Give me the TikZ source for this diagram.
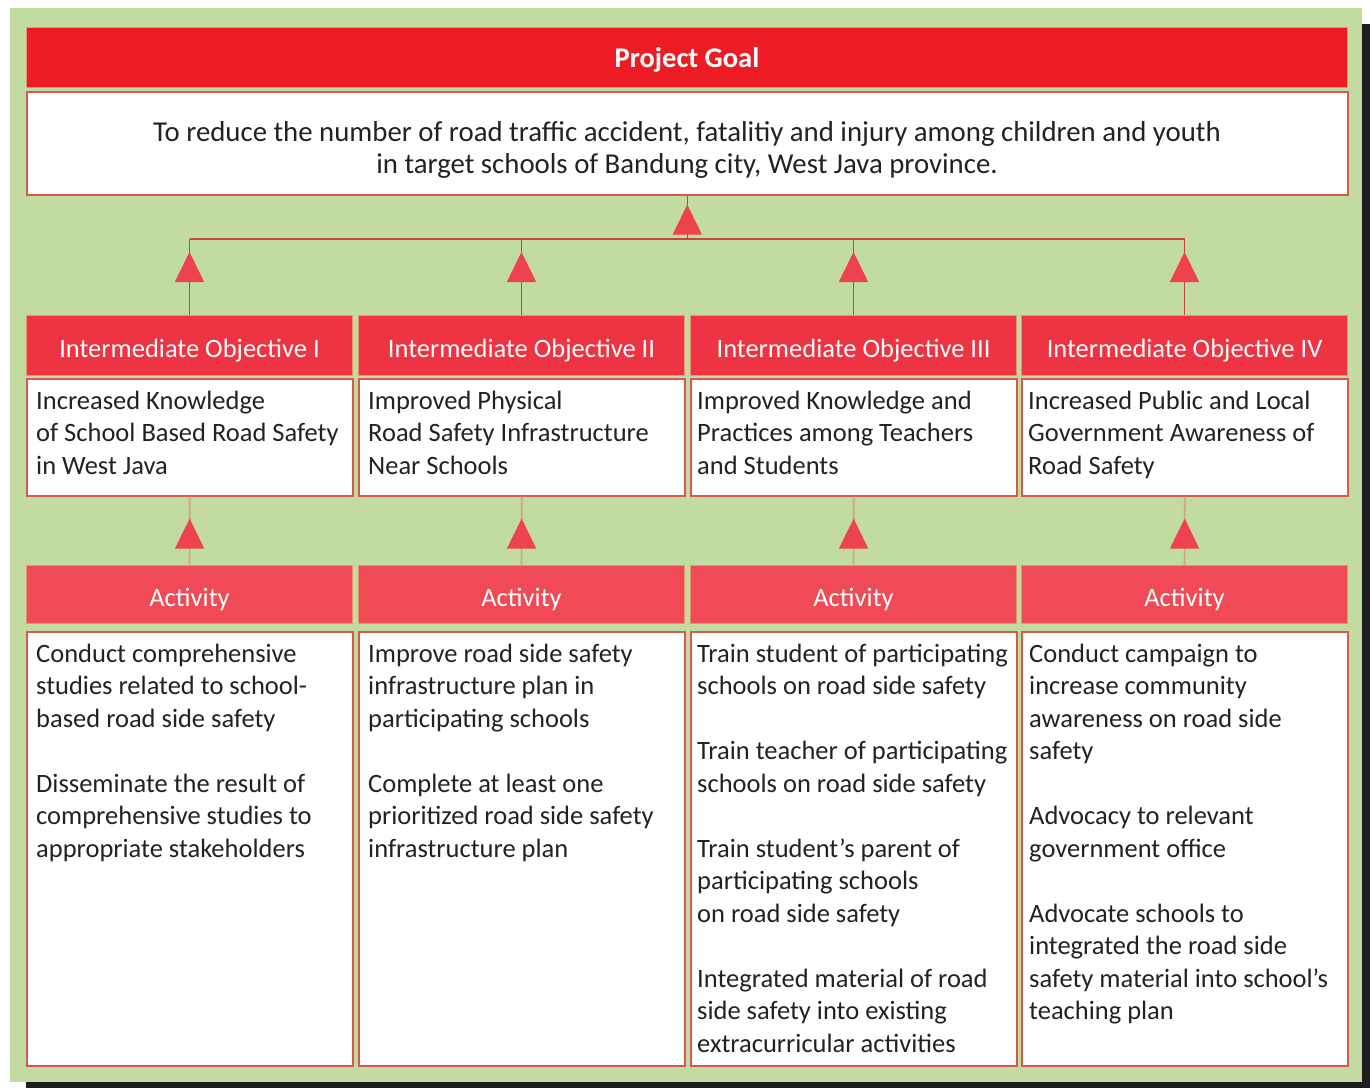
\documentclass[tikz,border=0pt]{standalone}
\usepackage{fontspec}
\setmainfont{Carlito}
\usetikzlibrary{arrows.meta,decorations.markings,calc}

\definecolor{bggreen}{HTML}{C2DBA0}
\definecolor{shadowc}{HTML}{1E1E1E}
\definecolor{goalred}{HTML}{ED1C24}
\definecolor{objred}{HTML}{EE3342}
\definecolor{actred}{HTML}{EF4A55}
\definecolor{tricol}{HTML}{EE4250}
\definecolor{boxline}{HTML}{D9574F}
\definecolor{barline}{HTML}{E9946A}
\definecolor{darklink}{HTML}{C8473C}
\definecolor{lightlink}{HTML}{D9A282}
\definecolor{ink}{HTML}{222222}

\tikzset{
  bar/.style={anchor=north west, inner sep=0pt, draw=barline, line width=1pt,
    minimum width=#1, text=white},
  whitebox/.style={anchor=north west, inner sep=0pt, draw=boxline, line width=1.6pt,
    fill=white, minimum width=#1},
  headtext/.style={font=\fontsize{26.5}{31}\selectfont, text height=25pt, text depth=2pt},
  bodytext/.style={anchor=north west, inner sep=0pt, align=left, text=ink,
    font=\fontsize{26.5}{32.5}\selectfont},
  uplink/.style={draw=darklink, line width=1.6pt},
  lowlink/.style={draw=lightlink, line width=1.6pt},
  tipmark/.style={postaction={decorate}, decoration={markings,
    mark=at position #1 with {\arrow{Triangle[width=29pt,length=30pt,color=tricol]}}}},
}

\newcommand{\st}{\rule{0pt}{20pt}}

\begin{document}
\begin{tikzpicture}[x=1pt,y=-1pt]
\useasboundingbox (0,0) rectangle (1370,1088);
% frame with drop shadow
\fill[shadowc] (26,24) rectangle (1370,1088);
\fill[bggreen] (10,8) rectangle (1362,1082);

% project goal
\node[bar=1321pt, fill=goalred, minimum height=60pt, text height=21pt, text depth=2pt,
  font=\bfseries\fontsize{28.5}{33}\selectfont] (goalhead) at (26,27) {Project Goal};
\node[whitebox=1321pt, minimum height=103pt] (goal) at (26,91) {};
\node[anchor=center, align=center, text=ink, inner sep=0pt,
  font=\fontsize{28.8}{32}\selectfont] (goaltext) at (687,150)
  {To reduce the number of road traffic accident, fatalitiy and injury among children and youth\\
   in target schools of Bandung city, West Java province.};

% intermediate objectives: headers
\node[bar=326pt, fill=objred, minimum height=60pt, headtext] (oh1) at (26,315) {Intermediate Objective I};
\node[bar=326pt, fill=objred, minimum height=60pt, headtext] (oh2) at (358,315) {Intermediate Objective II};
\node[bar=326pt, fill=objred, minimum height=60pt, headtext] (oh3) at (690,315) {Intermediate Objective III};
\node[bar=326pt, fill=objred, minimum height=60pt, headtext] (oh4) at (1021,315) {Intermediate Objective IV};

% intermediate objectives: boxes
\node[whitebox=326pt, minimum height=117pt] (ob1) at (26,378) {};
\node[whitebox=326pt, minimum height=117pt] (ob2) at (358,378) {};
\node[whitebox=326pt, minimum height=117pt] (ob3) at (690,378) {};
\node[whitebox=326pt, minimum height=117pt] (ob4) at (1021,378) {};

\node[bodytext] (obt1) at ($(ob1.north west)+(10,11)$)
  {\st Increased Knowledge\\of School Based Road Safety\\in West Java};
\node[bodytext] (obt2) at ($(ob2.north west)+(10,11)$)
  {\st Improved Physical\\Road Safety Infrastructure\\Near Schools};
\node[bodytext] (obt3) at ($(ob3.north west)+(7,11)$)
  {\st Improved Knowledge and\\Practices among Teachers\\and Students};
\node[bodytext] (obt4) at ($(ob4.north west)+(7,11)$)
  {\st Increased Public and Local\\Government Awareness of\\Road Safety};

% activities: headers
\node[bar=326pt, fill=actred, minimum height=58pt, headtext] (ah1) at (26,565) {Activity};
\node[bar=326pt, fill=actred, minimum height=58pt, headtext] (ah2) at (358,565) {Activity};
\node[bar=326pt, fill=actred, minimum height=58pt, headtext] (ah3) at (690,565) {Activity};
\node[bar=326pt, fill=actred, minimum height=58pt, headtext] (ah4) at (1021,565) {Activity};

% activities: boxes
\node[whitebox=326pt, minimum height=434pt] (ab1) at (26,631) {};
\node[whitebox=326pt, minimum height=434pt] (ab2) at (358,631) {};
\node[whitebox=326pt, minimum height=434pt] (ab3) at (690,631) {};
\node[whitebox=326pt, minimum height=434pt] (ab4) at (1021,631) {};

\node[bodytext] (abt1) at ($(ab1.north west)+(10,11)$)
  {\st Conduct comprehensive\\studies related to school-\\based road side safety\\[32.5pt]
   Disseminate the result of\\comprehensive studies to\\appropriate stakeholders};
\node[bodytext] (abt2) at ($(ab2.north west)+(10,11)$)
  {\st Improve road side safety\\infrastructure plan in\\participating schools\\[32.5pt]
   Complete at least one\\prioritized road side safety\\infrastructure plan};
\node[bodytext] (abt3) at ($(ab3.north west)+(7,11)$)
  {\st Train student of participating\\schools on road side safety\\[32.5pt]
   Train teacher of participating\\schools on road side safety\\[32.5pt]
   Train student’s parent of\\participating schools\\on road side safety\\[32.5pt]
   Integrated material of road\\side safety into existing\\extracurricular activities};
\node[bodytext] (abt4) at ($(ab4.north west)+(8,11)$)
  {\st Conduct campaign to\\increase community\\awareness on road side\\safety\\[32.5pt]
   Advocacy to relevant\\government office\\[32.5pt]
   Advocate schools to\\integrated the road side\\safety material into school’s\\teaching plan};

% junctions on the collecting line
\coordinate (j1) at (oh1.north |- 0,239);
\coordinate (j2) at (oh2.north |- 0,239);
\coordinate (j3) at (oh3.north |- 0,239);
\coordinate (j4) at (oh4.north |- 0,239);
\coordinate (jc) at (goal.south |- 0,239);

% links from objectives up to the goal
\draw[uplink] (j1) -- (j4);
\foreach \i in {1,2,3,4}{
  \draw[uplink, tipmark=-13pt] (oh\i.north) -- (j\i);
}
\draw[uplink, tipmark=-9pt] (jc) -- (goal.south);

% links from activities up to objectives
\foreach \i in {1,2,3,4}{
  \draw[lowlink, tipmark=-22pt] (ah\i.north) -- (ob\i.south);
}
\end{tikzpicture}
\end{document}
